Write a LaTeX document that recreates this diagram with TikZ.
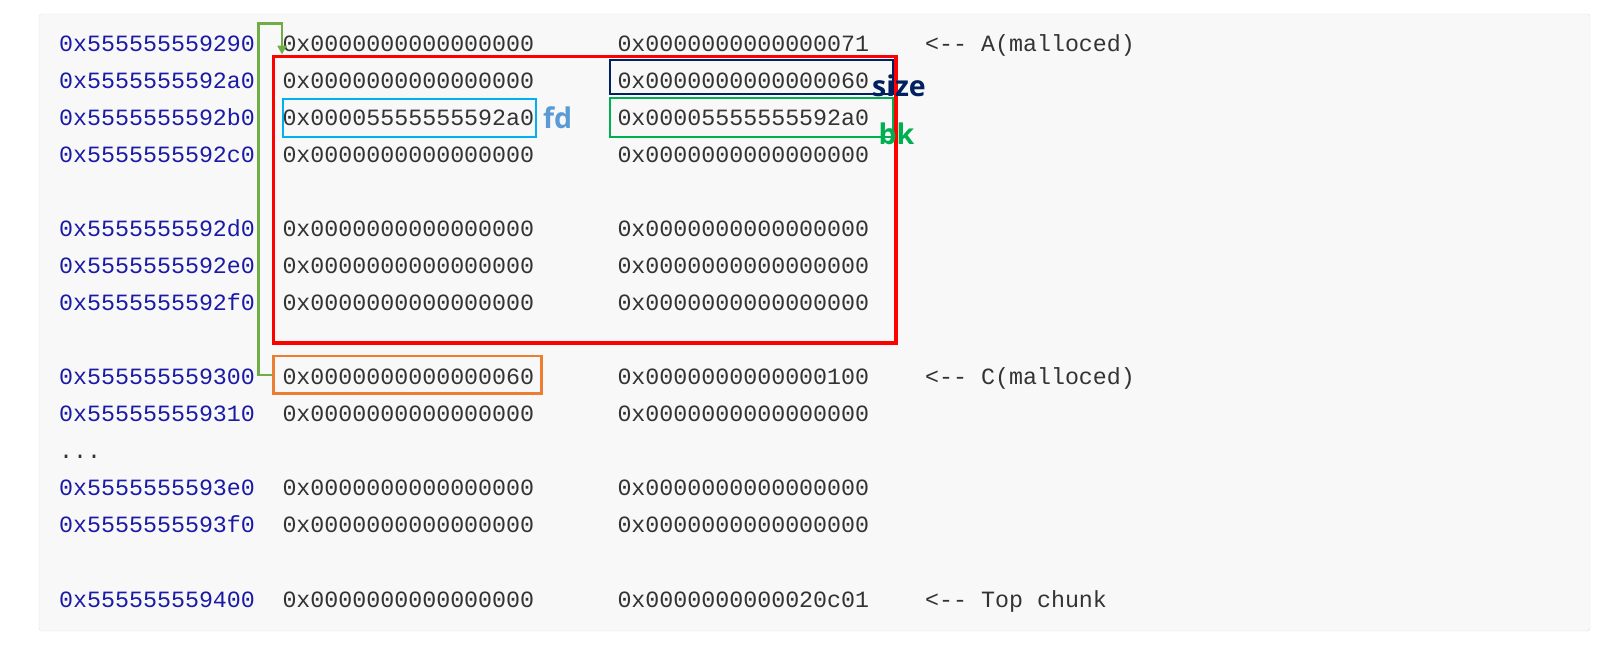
\documentclass[tikz,border=0pt]{standalone}
\usepackage{fontspec}
\setmonofont{Liberation Mono}
\setsansfont{Open Sans}
\usetikzlibrary{arrows.meta}
\definecolor{addrc}{RGB}{26,26,166}
\definecolor{valc}{RGB}{51,51,51}
\definecolor{panelfill}{RGB}{248,248,248}
\definecolor{panelline}{RGB}{226,226,226}
\definecolor{redc}{RGB}{255,0,0}
\definecolor{navyc}{RGB}{0,32,96}
\definecolor{greenc}{RGB}{0,176,80}
\definecolor{bluec}{RGB}{0,176,240}
\definecolor{fdc}{RGB}{91,155,213}
\definecolor{orangec}{RGB}{237,125,49}
\definecolor{linkc}{RGB}{112,173,71}
\begin{document}
\begin{tikzpicture}[x=1pt,y=-1pt,
  cell/.style={anchor=base west, inner sep=0pt, font=\fontsize{23.3}{23.3}\selectfont\ttfamily},
  addr/.style={cell, text=addrc},
  val/.style={cell, text=valc},
  tag/.style={anchor=base west, inner sep=0pt, font=\fontsize{28.5}{28.5}\selectfont\sffamily\bfseries},
  markbox/.style={draw, inner sep=0pt, fill=none},
]
\path[use as bounding box] (0,0) rectangle (1607,655);
\draw[panelline, fill=panelfill, rounded corners=3pt] (39,14) rectangle (1590,631);

\foreach \i/\a/\b/\c [count=\n] in {
  0/0x555555559290/0x0000000000000000/0x0000000000000071,
  1/0x5555555592a0/0x0000000000000000/0x0000000000000060,
  2/0x5555555592b0/0x00005555555592a0/0x00005555555592a0,
  3/0x5555555592c0/0x0000000000000000/0x0000000000000000,
  5/0x5555555592d0/0x0000000000000000/0x0000000000000000,
  6/0x5555555592e0/0x0000000000000000/0x0000000000000000,
  7/0x5555555592f0/0x0000000000000000/0x0000000000000000,
  9/0x555555559300/0x0000000000000060/0x0000000000000100,
  10/0x555555559310/0x0000000000000000/0x0000000000000000,
  12/0x5555555593e0/0x0000000000000000/0x0000000000000000,
  13/0x5555555593f0/0x0000000000000000/0x0000000000000000,
  15/0x555555559400/0x0000000000000000/0x0000000000020c01}
{
  \node[addr] (a\n) at (59,{51.6+37.03*\i}) {\a};
  \node[val] (b\n) at (282.3,{51.6+37.03*\i}) {\b};
  \node[val] (c\n) at (617.3,{51.6+37.03*\i}) {\c};
}
\node[val] (dots) at (59,{51.6+37.03*11}) {...};
\node[val] (cmA) at (925,{51.6+37.03*0}) {<-{}- A(malloced)};
\node[val] (cmC) at (925,{51.6+37.03*9}) {<-{}- C(malloced)};
\node[val] (cmT) at (925,{51.6+37.03*15}) {<-{}- Top chunk};

\node[markbox, draw=redc, line width=3.7pt, minimum width=622.2pt, minimum height=286.9pt] (red) at (584.7,199.85) {};
\node[markbox, draw=navyc, line width=2pt, minimum width=283pt, minimum height=33.5pt] (sizebox) at (751.5,77.25) {};
\node[markbox, draw=greenc, line width=2pt, minimum width=283pt, minimum height=39.5pt] (bkbox) at (751.5,117.75) {};
\node[markbox, draw=bluec, line width=2pt, minimum width=252.5pt, minimum height=37.9pt] (fdbox) at (409.25,118.35) {};
\node[markbox, draw=orangec, line width=2.5pt, minimum width=268pt, minimum height=37.5pt] (orange) at (407.5,374.75) {};

\node[tag, text=navyc] (sizelbl) at (872,96.7) {size};
\node[tag, text=greenc] (bklbl) at (878.5,144.5) {bk};
\node[tag, text=fdc] (fdlbl) at (543,129) {fd};

\coordinate (c1) at (258.5,23.3);
\coordinate (c2) at (282,23.3);
\draw[linkc, line width=2.5pt, -{Triangle[width=9pt,length=9pt]}] (orange.west) -| (c1) -- (c2) -- (c2 |- red.north);
\end{tikzpicture}
\end{document}
